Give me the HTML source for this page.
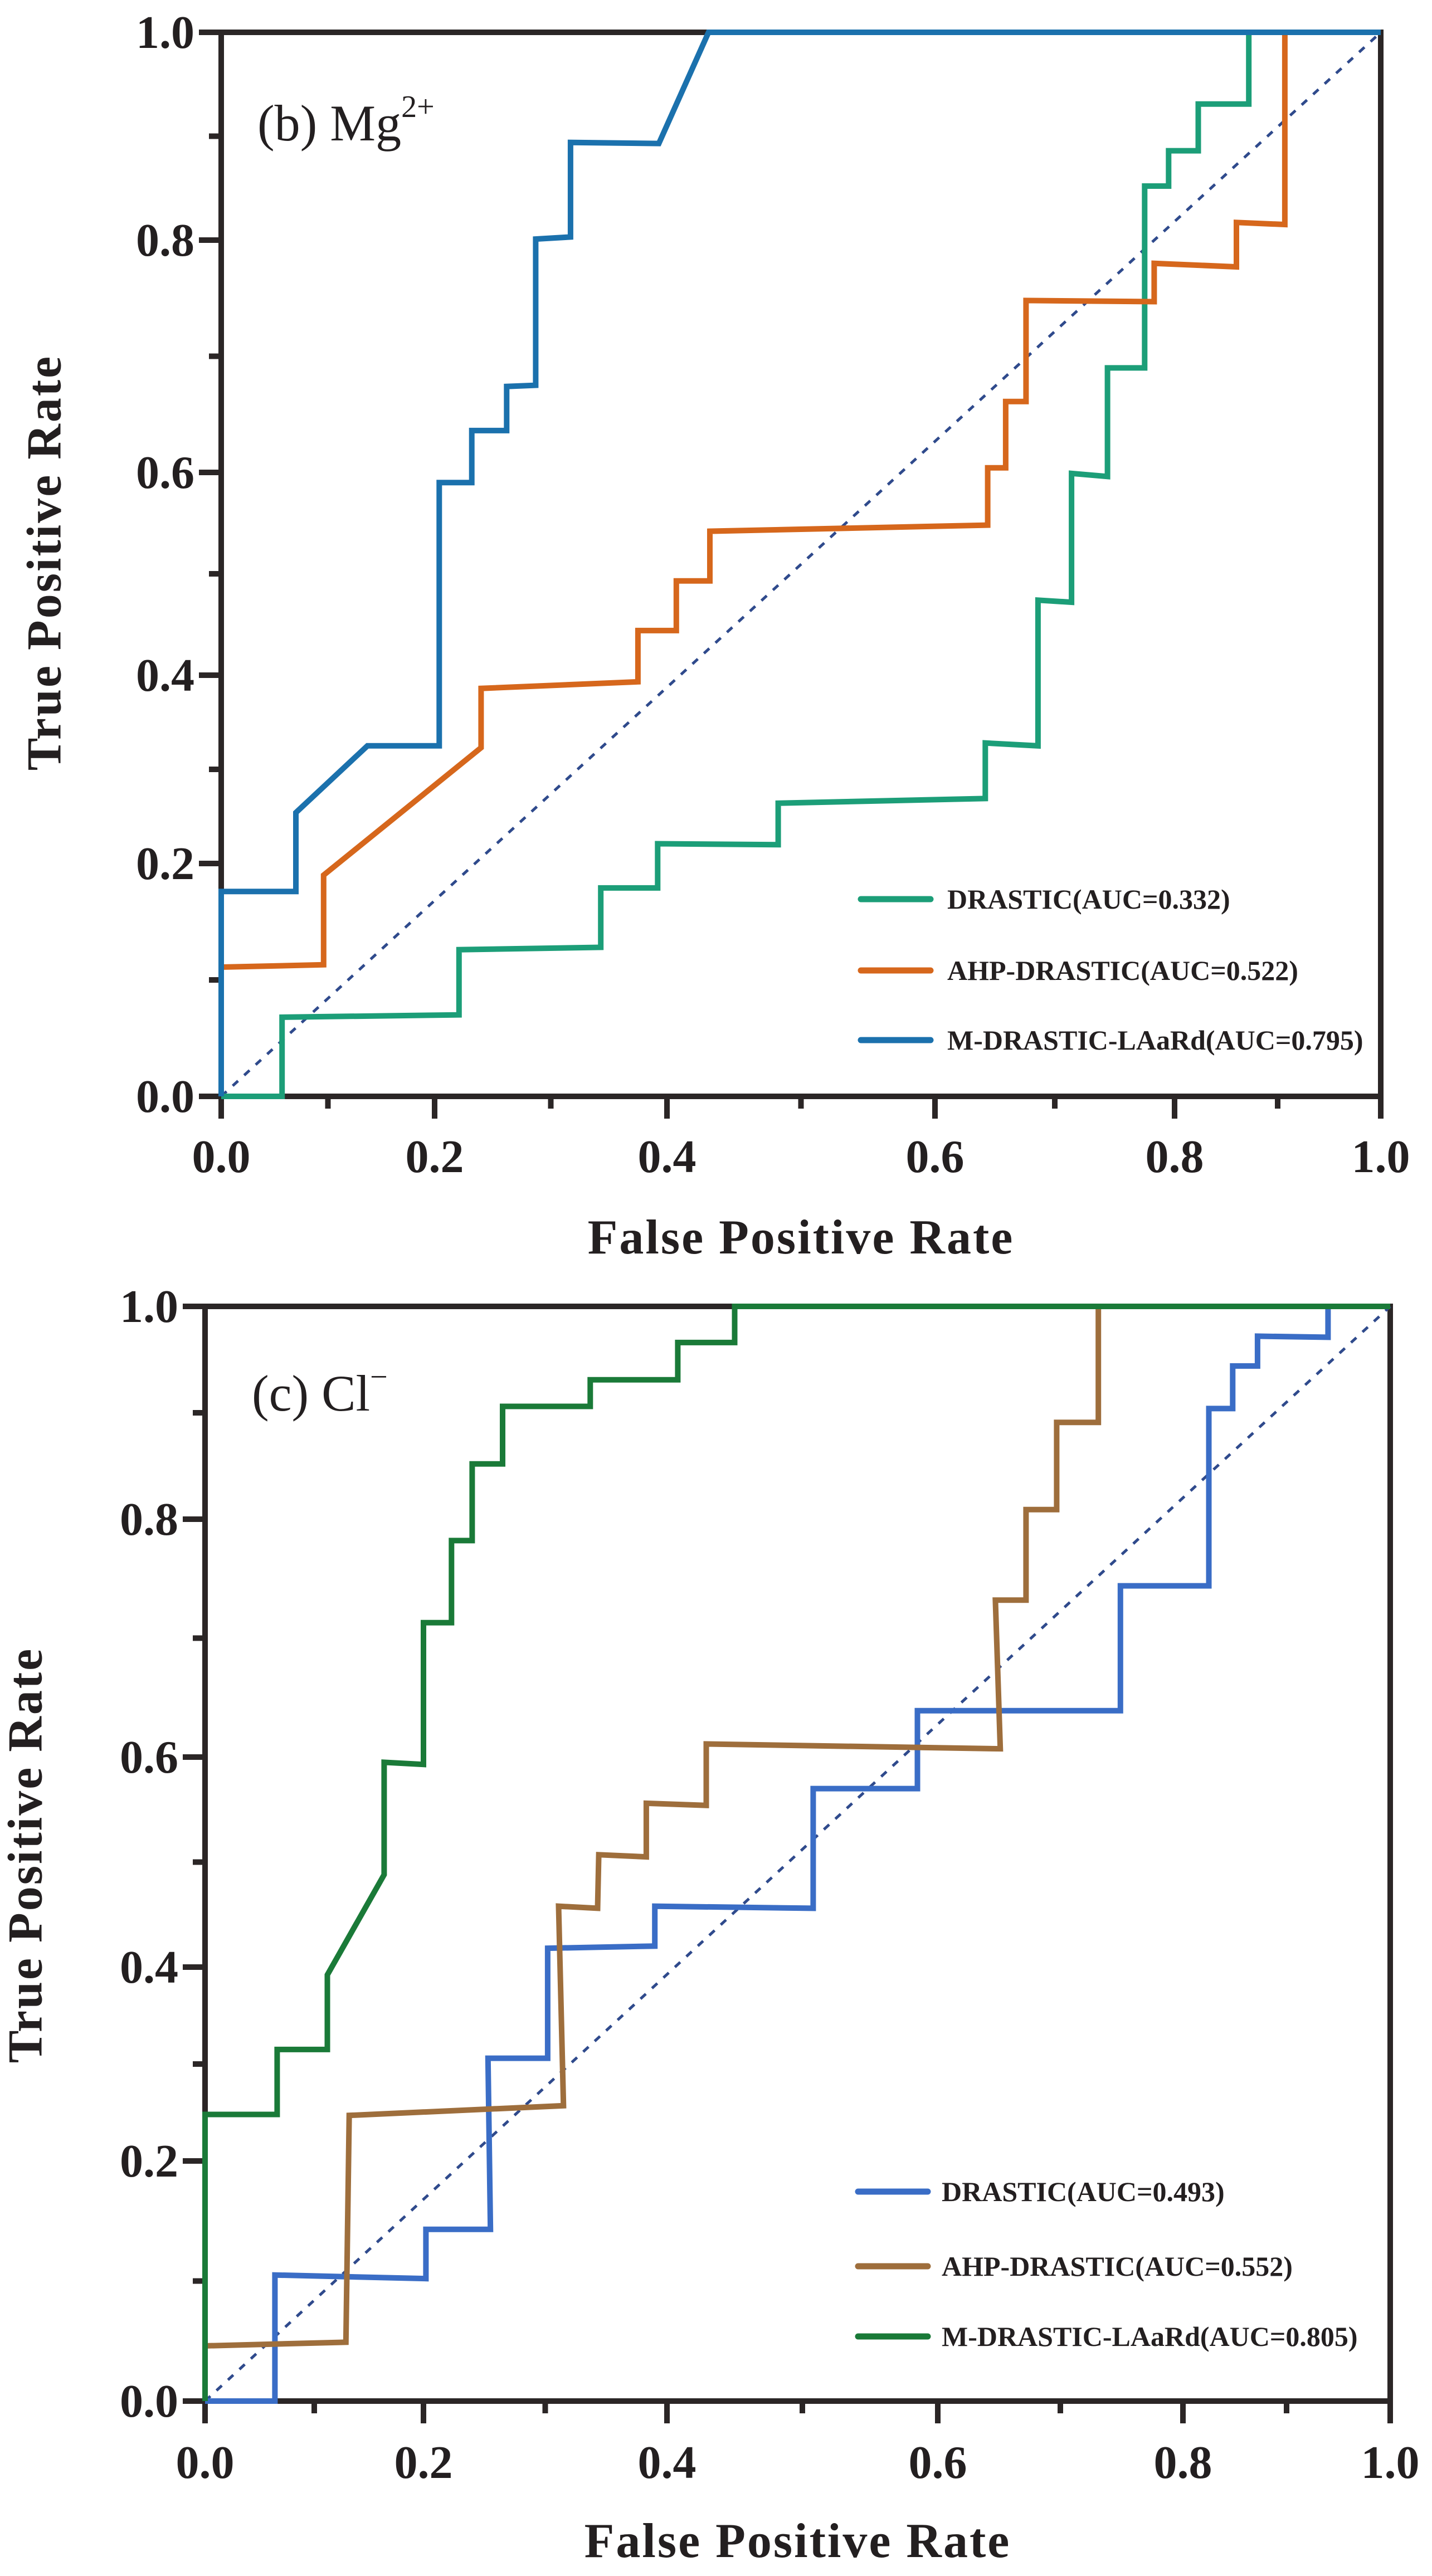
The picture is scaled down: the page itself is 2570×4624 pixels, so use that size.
<!DOCTYPE html>
<html><head><meta charset="utf-8"><style>
html,body{margin:0;padding:0;background:#fff;}
svg{display:block;}
text{font-family:"Liberation Serif",serif;fill:#231f20;}
</style></head><body>
<svg id="fig" width="2570" height="4624" viewBox="0 0 2570 4624" xmlns="http://www.w3.org/2000/svg"></svg>
<script>
// ---------- data ----------
const tickValues = [0, 0.2, 0.4, 0.6, 0.8, 1.0];
const tickLabels = ["0.0", "0.2", "0.4", "0.6", "0.8", "1.0"];

const mgNames = ["DRASTIC(AUC=0.332)", "AHP-DRASTIC(AUC=0.522)", "M-DRASTIC-LAaRd(AUC=0.795)"];
const mgDrasticX = [0,0.057,0.057,0.221,0.221,0.343,0.343,0.392,0.392,0.483,0.483,0.642,0.642,0.686,0.686,0.714,0.714,0.744,0.744,0.775,0.775,0.795,0.795,0.823,0.823,0.872,0.872,1];
const mgDrasticY = [0,0,0.068,0.070,0.126,0.128,0.179,0.179,0.221,0.220,0.264,0.269,0.328,0.325,0.474,0.472,0.599,0.596,0.690,0.690,0.852,0.852,0.886,0.886,0.931,0.931,1,1];
const mgAhpX = [0,0,0.096,0.096,0.240,0.240,0.375,0.375,0.407,0.407,0.432,0.432,0.644,0.644,0.659,0.659,0.676,0.676,0.783,0.783,0.860,0.860,0.907,0.907,1];
const mgAhpY = [0,0.111,0.113,0.190,0.323,0.386,0.393,0.444,0.444,0.493,0.493,0.542,0.548,0.604,0.604,0.661,0.661,0.748,0.747,0.780,0.777,0.817,0.815,1,1];
const mgMX = [0,0,0.070,0.070,0.137,0.204,0.204,0.232,0.232,0.262,0.262,0.287,0.287,0.317,0.317,0.393,0.431,1];
const mgMY = [0,0.176,0.176,0.254,0.325,0.325,0.590,0.590,0.636,0.636,0.674,0.675,0.801,0.803,0.894,0.893,1,1];

const clNames = ["DRASTIC(AUC=0.493)", "AHP-DRASTIC(AUC=0.552)", "M-DRASTIC-LAaRd(AUC=0.805)"];
const clDrasticX = [0,0.064,0.064,0.202,0.202,0.255,0.253,0.302,0.302,0.390,0.390,0.508,0.508,0.585,0.585,0.749,0.749,0.825,0.825,0.848,0.848,0.872,0.872,0.940,0.940,1];
const clDrasticY = [0,0,0.105,0.102,0.143,0.143,0.306,0.306,0.418,0.420,0.458,0.456,0.570,0.570,0.639,0.639,0.744,0.744,0.904,0.904,0.944,0.944,0.972,0.971,1,1];
const clAhpX = [0,0.129,0.132,0.315,0.311,0.343,0.344,0.383,0.383,0.429,0.429,0.651,0.647,0.672,0.672,0.697,0.697,0.731,0.731,1];
const clAhpY = [0.046,0.049,0.247,0.257,0.458,0.456,0.507,0.505,0.556,0.554,0.611,0.607,0.732,0.732,0.809,0.809,0.891,0.891,1,1];
const clMX = [0,0,0.066,0.066,0.112,0.112,0.164,0.164,0.2,0.2,0.223,0.223,0.240,0.240,0.265,0.265,0.337,0.337,0.408,0.408,0.450,0.450,1];
const clMY = [0,0.248,0.248,0.315,0.315,0.392,0.488,0.595,0.593,0.713,0.713,0.782,0.782,0.852,0.852,0.906,0.906,0.931,0.931,0.966,0.966,1,1];

// ---------- layout ----------
const NS = "http://www.w3.org/2000/svg";
const svg = document.getElementById('fig');
function mk(tag, attrs, parent){const e=document.createElementNS(NS,tag);for(const k in attrs)e.setAttribute(k,attrs[k]);(parent||svg).appendChild(e);return e;}
function piece(px){return function(v){for(let i=0;i<tickValues.length-1;i++){if(v<=tickValues[i+1]||i===tickValues.length-2){const t=(v-tickValues[i])/(tickValues[i+1]-tickValues[i]);return px[i]+t*(px[i+1]-px[i]);}}};}

const panels = [
 {id:'mg', xpx:[397,780,1197,1678,2108,2478], ypx:[1968,1550,1212,848,431,58],
  label:'(b) Mg', sup:'2+', lx:462, ly:252, ytitleX:80, ytitleY:1010, xlabY:2104, xtitleY:2250,
  legX:1545, legTx:1700, legY:[1614,1742,1867],
  series:[[mgDrasticX,mgDrasticY,'#1c9e78','drastic'],[mgAhpX,mgAhpY,'#d6671c','ahp-drastic'],[mgMX,mgMY,'#1b71ad','m-drastic-laard']], names:mgNames},
 {id:'cl', xpx:[368,760,1197,1683,2123,2495], ypx:[4310,3879,3531,3154,2727,2345],
  label:'(c) Cl', sup:'\u2212', lx:452, ly:2532, ytitleX:46, ytitleY:3330, xlabY:4448, xtitleY:4590,
  legX:1540, legTx:1690, legY:[3934,4068,4194],
  series:[[clDrasticX,clDrasticY,'#3a6dc6','drastic'],[clAhpX,clAhpY,'#9e6e3c','ahp-drastic'],[clMX,clMY,'#1a7a38','m-drastic-laard']], names:clNames}
];

panels.forEach(p=>{
  const X=piece(p.xpx), Y=piece(p.ypx);
  const g=mk('g',{});
  
  
  const x0=X(0),x1=X(1),y0=Y(0),y1=Y(1);
  // frame
  const fr=mk('path',{d:`M${x0-40},${y1} H${x1} V${y0} M${x0},${y1} V${y0+40} M${x0-40},${y0} H${x1}`,fill:'none',stroke:'#2b2626','stroke-width':10},g);
  
  
  // ticks
  tickValues.forEach((v,i)=>{
    const ty=Y(v), tx=X(v);
    mk('line',{x1:x0-40,y1:ty,x2:x0,y2:ty,stroke:'#2b2626','stroke-width':10},g);
    mk('line',{x1:tx,y1:y0,x2:tx,y2:y0+40,stroke:'#2b2626','stroke-width':10},g);
    const yl=mk('text',{x:x0-48,y:ty+28,'text-anchor':'end','font-size':84,'font-weight':'bold'},g);
    yl.textContent=tickLabels[i];
    
    
    const xl=mk('text',{x:tx,y:p.xlabY,'text-anchor':'middle','font-size':84,'font-weight':'bold'},g);
    xl.textContent=tickLabels[i];
    
    
    if(i<tickValues.length-1){
      const mv=(v+tickValues[i+1])/2;
      mk('line',{x1:x0-22,y1:Y(mv),x2:x0,y2:Y(mv),stroke:'#2b2626','stroke-width':10},g);
      mk('line',{x1:X(mv),y1:y0,x2:X(mv),y2:y0+22,stroke:'#2b2626','stroke-width':10},g);
    }
  });
  // diagonal
  const d=mk('line',{x1:x0,y1:y0,x2:x1,y2:y1,stroke:'#2f4a8c','stroke-width':5,'stroke-dasharray':'13 15'},g);
  
  
  // series (drawn over the frame)
  p.series.forEach(s=>{
    const pts=s[0].map((v,i)=>X(v).toFixed(1)+','+Y(s[1][i]).toFixed(1)).join(' ');
    const pl=mk('polyline',{points:pts,fill:'none',stroke:s[2],'stroke-width':10,'stroke-linejoin':'miter'},g);
    
    
  });
  // titles
  const yt=mk('text',{x:p.ytitleX,y:p.ytitleY,transform:`rotate(-90 ${p.ytitleX} ${p.ytitleY})`,'text-anchor':'middle','dominant-baseline':'central','font-size':88,'font-weight':'bold','letter-spacing':3},g);
  yt.textContent='True Positive Rate';
  
  
  const xt=mk('text',{x:(x0+x1)/2,y:p.xtitleY,'text-anchor':'middle','font-size':88,'font-weight':'bold','letter-spacing':3},g);
  xt.textContent='False Positive Rate';
  
  
  // panel label
  const pl=mk('text',{x:p.lx,y:p.ly,'font-size':92},g);
  
  
  pl.appendChild(document.createTextNode(p.label));
  const sp=mk('tspan',{dy:-42,'font-size':56},pl);
  sp.textContent=p.sup;
  // legend
  p.series.forEach((s,i)=>{
    const ly=p.legY[i];
    const ln=mk('line',{x1:p.legX,y1:ly,x2:p.legX+125,y2:ly,stroke:s[2],'stroke-width':11,'stroke-linecap':'round'},g);
    
    
    const lt=mk('text',{x:p.legTx,y:ly+17,'font-size':50,'font-weight':'bold'},g);
    lt.textContent=p.names[i];
    
    
  });
});
</script>
</body></html>
